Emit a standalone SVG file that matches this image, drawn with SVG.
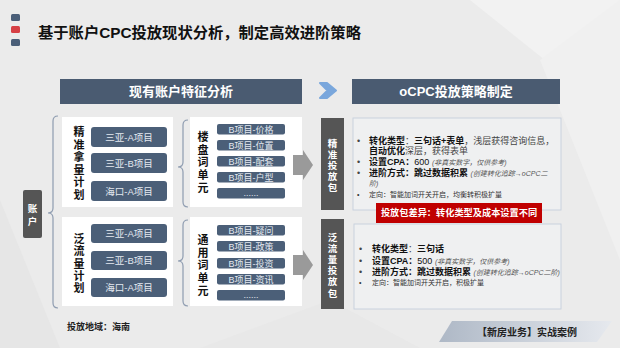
<svg xmlns="http://www.w3.org/2000/svg" width="620" height="348" viewBox="0 0 620 348">
<defs>
<linearGradient id="ftg" x1="0" y1="0" x2="1" y2="0">
<stop offset="0" stop-color="#aeb8c6"/>
<stop offset="1" stop-color="#e6e9ee"/>
</linearGradient>
<style>
text{font-family:"Liberation Sans","Noto Sans CJK SC",sans-serif;}
.hdr{fill:#4a5b71;}
.hdrt{fill:#fff;font-size:13px;font-weight:bold;text-anchor:middle;}
.panel{fill:#fff;}
.btn{fill:#4b5f78;}
.btnt{fill:#e4e9f0;font-size:9.5px;text-anchor:middle;}
.bi{fill:#4b5f78;}
.bit{fill:#e4e9f0;font-size:9px;text-anchor:middle;}
.vt{font-size:11px;font-weight:bold;fill:#111;text-anchor:middle;}
.dk{fill:#555;}
.dkt{font-size:9.5px;font-weight:bold;fill:#fff;text-anchor:middle;}
.brk{fill:none;stroke:#8e9cb0;stroke-width:1.2;}
.rp{fill:#f3f4f6;fill-opacity:0.55;stroke:#c9d2de;stroke-width:1;}
.t{font-size:9px;fill:#444;}
.b{font-weight:bold;fill:#111;}
.n{font-size:7px;font-style:italic;fill:#555;}
.s{font-size:7px;fill:#333;}
.garrow{fill:#9a9a9a;}
</style>
</defs>
<rect width="620" height="348" fill="#ebebeb"/>
<polygon points="470,0 620,0 620,120" fill="#f2f2f2"/>
<polygon points="540,60 620,0 620,260" fill="#f0f0f0"/>
<polygon points="0,200 60,348 0,348" fill="#e6e6e6"/>
<polygon points="200,348 330,300 420,348" fill="#e8e8e8"/>

<g id="title">
<rect x="11" y="14" width="9" height="7" rx="1.5" fill="#4a5e78"/>
<rect x="11" y="26" width="9" height="7" rx="1.5" fill="#d64045"/>
<rect x="11" y="39" width="9" height="7" rx="1.5" fill="#4a5e78"/>
<text x="38" y="37.5" font-size="15.3" font-weight="bold" fill="#111">基于账户CPC投放现状分析，制定高效进阶策略</text>
</g>

<g id="header-left">
<rect class="hdr" x="60" y="79" width="242" height="25"/>
<text class="hdrt" x="181" y="96">现有账户特征分析</text>
</g>
<g id="chevron">
<polygon points="320,83 327,83 336,90.5 327,98 320,98 327.5,90.5" fill="#7aa7dc" stroke="#7aa7dc" stroke-width="2" stroke-linejoin="round"/>
</g>
<g id="header-right">
<rect class="hdr" x="352" y="79" width="208" height="25"/>
<text class="hdrt" x="456" y="96">oCPC投放策略制定</text>
</g>

<g id="account">
<rect class="dk" x="23" y="190" width="19" height="48" rx="2"/>
<text class="dkt" x="32.5" y="212" font-size="10">账</text>
<text class="dkt" x="32.5" y="225" font-size="10">户</text>
</g>

<g id="connectors">
<path class="brk" d="M58,116 Q53,116 53,121 L53,208 Q53,213 48,213 Q53,213 53,218 L53,303 Q53,308 58,308"/>
<path class="brk" d="M188,120 Q183,120 183,125 L183,162 Q183,167 178,167 Q183,167 183,172 L183,202 Q183,207 188,207"/>
<path class="brk" d="M188,220 Q183,220 183,225 L183,256 Q183,261 178,261 Q183,261 183,266 L183,301 Q183,306 188,306"/>
</g>

<g id="plan-precise">
<rect class="panel" x="62" y="117" width="111" height="90"/>
<text class="vt"><tspan x="79" y="136">精</tspan><tspan x="79" dy="12.6">准</tspan><tspan x="79" dy="12.6">拿</tspan><tspan x="79" dy="12.6">量</tspan><tspan x="79" dy="12.6">计</tspan><tspan x="79" dy="12.6">划</tspan></text>
<rect class="btn" x="91" y="127" width="76" height="20" rx="3"/>
<text class="btnt" x="129" y="140.5">三亚-A项目</text>
<rect class="btn" x="91" y="153" width="76" height="20" rx="3"/>
<text class="btnt" x="129" y="166.5">三亚-B项目</text>
<rect class="btn" x="91" y="181" width="76" height="20" rx="3"/>
<text class="btnt" x="129" y="194.5">海口-A项目</text>
</g>

<g id="plan-broad">
<rect class="panel" x="62" y="217" width="111" height="89"/>
<text class="vt"><tspan x="79" y="243">泛</tspan><tspan x="79" dy="12.3">流</tspan><tspan x="79" dy="12.3">量</tspan><tspan x="79" dy="12.3">计</tspan><tspan x="79" dy="12.3">划</tspan></text>
<rect class="btn" x="91" y="224" width="76" height="19" rx="3"/>
<text class="btnt" x="129" y="237">三亚-A项目</text>
<rect class="btn" x="91" y="251" width="76" height="19" rx="3"/>
<text class="btnt" x="129" y="264">三亚-B项目</text>
<rect class="btn" x="91" y="278" width="76" height="19" rx="3"/>
<text class="btnt" x="129" y="291">海口-A项目</text>
</g>

<g id="unit-building">
<rect class="panel" x="190" y="117" width="112" height="90"/>
<text class="vt"><tspan x="203" y="141">楼</tspan><tspan x="203" dy="12.7">盘</tspan><tspan x="203" dy="12.7">词</tspan><tspan x="203" dy="12.7">单</tspan><tspan x="203" dy="12.7">元</tspan></text>
<rect class="bi" x="217" y="124" width="68" height="10.5" rx="2"/>
<text class="bit" x="251" y="132.5">B项目-价格</text>
<rect class="bi" x="217" y="140" width="68" height="10.5" rx="2"/>
<text class="bit" x="251" y="148.5">B项目-位置</text>
<rect class="bi" x="217" y="156" width="68" height="10.5" rx="2"/>
<text class="bit" x="251" y="164.5">B项目-配套</text>
<rect class="bi" x="217" y="172" width="68" height="10.5" rx="2"/>
<text class="bit" x="251" y="180.5">B项目-户型</text>
<rect class="bi" x="217" y="188" width="68" height="10.5" rx="2"/>
<text class="bit" x="251" y="196" font-size="7">......</text>
</g>

<g id="unit-general">
<rect class="panel" x="190" y="217" width="112" height="89"/>
<text class="vt"><tspan x="203" y="244">通</tspan><tspan x="203" dy="12.7">用</tspan><tspan x="203" dy="12.7">词</tspan><tspan x="203" dy="12.7">单</tspan><tspan x="203" dy="12.7">元</tspan></text>
<rect class="bi" x="217" y="225" width="68" height="10.5" rx="2"/>
<text class="bit" x="251" y="233.5">B项目-疑问</text>
<rect class="bi" x="217" y="241" width="68" height="10.5" rx="2"/>
<text class="bit" x="251" y="249.5">B项目-政策</text>
<rect class="bi" x="217" y="258" width="68" height="10.5" rx="2"/>
<text class="bit" x="251" y="266.5">B项目-投资</text>
<rect class="bi" x="217" y="274" width="68" height="10.5" rx="2"/>
<text class="bit" x="251" y="282.5">B项目-资讯</text>
<rect class="bi" x="217" y="290" width="68" height="10.5" rx="2"/>
<text class="bit" x="251" y="298" font-size="7">......</text>
</g>

<g id="arrow-1">
<polygon class="garrow" points="293,155 303,155 303,150 313,165 303,180 303,175 293,175"/>
</g>
<g id="arrow-2">
<polygon class="garrow" points="293,255 303,255 303,250 313,265 303,280 303,275 293,275"/>
</g>

<g id="pack-precise">
<rect class="dk" x="321" y="118" width="23" height="92"/>
<text class="dkt"><tspan x="332.5" y="146.5">精</tspan><tspan x="332.5" dy="11">准</tspan><tspan x="332.5" dy="11">投</tspan><tspan x="332.5" dy="11">放</tspan><tspan x="332.5" dy="11">包</tspan></text>
</g>
<g id="pack-broad">
<rect class="dk" x="321" y="219" width="23" height="90"/>
<text class="dkt"><tspan x="332.5" y="240.5">泛</tspan><tspan x="332.5" dy="11.2">流</tspan><tspan x="332.5" dy="11.2">量</tspan><tspan x="332.5" dy="11.2">投</tspan><tspan x="332.5" dy="11.2">放</tspan><tspan x="332.5" dy="11.2">包</tspan></text>
</g>

<g id="strategy-precise">
<rect class="rp" x="353" y="118" width="208" height="92"/>
<text class="t" x="357" y="143.5">•</text>
<text class="t" x="369" y="143.5"><tspan class="b">转化类型</tspan>：<tspan class="b">三句话+表单</tspan>，浅层获得咨询信息，</text>
<text class="t" x="369" y="153.5"><tspan class="b">自动优化</tspan>深层，获得表单</text>
<text class="t" x="357" y="164.5">•</text>
<text class="t" x="369" y="164.5"><tspan class="b">设置CPA：</tspan><tspan fill="#111">600 </tspan><tspan class="n">(非真实数字，仅供参考)</tspan></text>
<text class="t" x="357" y="175.5">•</text>
<text class="t" x="369" y="175.5"><tspan class="b">进阶方式：跳过数据积累 </tspan><tspan class="n">(创建转化追踪→oCPC二</tspan></text>
<text class="n" x="369" y="185.5">阶)</text>
<text class="s" x="357" y="196.5">•</text>
<text class="s" x="369" y="196.5">定向：智能加词开关开启，均衡转积极扩量</text>
</g>

<g id="difference">
<rect x="376" y="203" width="166" height="20" fill="#c00000"/>
<text x="459" y="216.3" font-size="9.2" font-weight="bold" fill="#fff" text-anchor="middle">投放包差异：转化类型及成本设置不同</text>
</g>

<g id="strategy-broad">
<rect class="rp" x="354" y="224" width="207" height="85"/>
<text class="t" x="359" y="252">•</text>
<text class="t" x="372" y="252"><tspan class="b">转化类型</tspan>：<tspan class="b">三句话</tspan></text>
<text class="t" x="359" y="264">•</text>
<text class="t" x="372" y="264"><tspan class="b">设置CPA：</tspan><tspan fill="#111">500 </tspan><tspan class="n">(非真实数字，仅供参考)</tspan></text>
<text class="t" x="359" y="274.5">•</text>
<text class="t" x="372" y="274.5"><tspan class="b">进阶方式：跳过数据积累 </tspan><tspan class="n">(创建转化追踪→oCPC二阶)</tspan></text>
<text class="s" x="359" y="285">•</text>
<text class="s" x="372" y="285">定向：智能加词开关开启，积极扩量</text>
</g>

<g id="region">
<text x="67" y="330" font-size="9" font-weight="bold" fill="#222">投放地域：海南</text>
</g>

<g id="footer">
<polygon points="452,321 612,321 597,342 439,342" fill="url(#ftg)"/>
<text x="527" y="335.5" font-size="10" font-weight="bold" fill="#222" text-anchor="middle">【新房业务】实战案例</text>
</g>
</svg>
